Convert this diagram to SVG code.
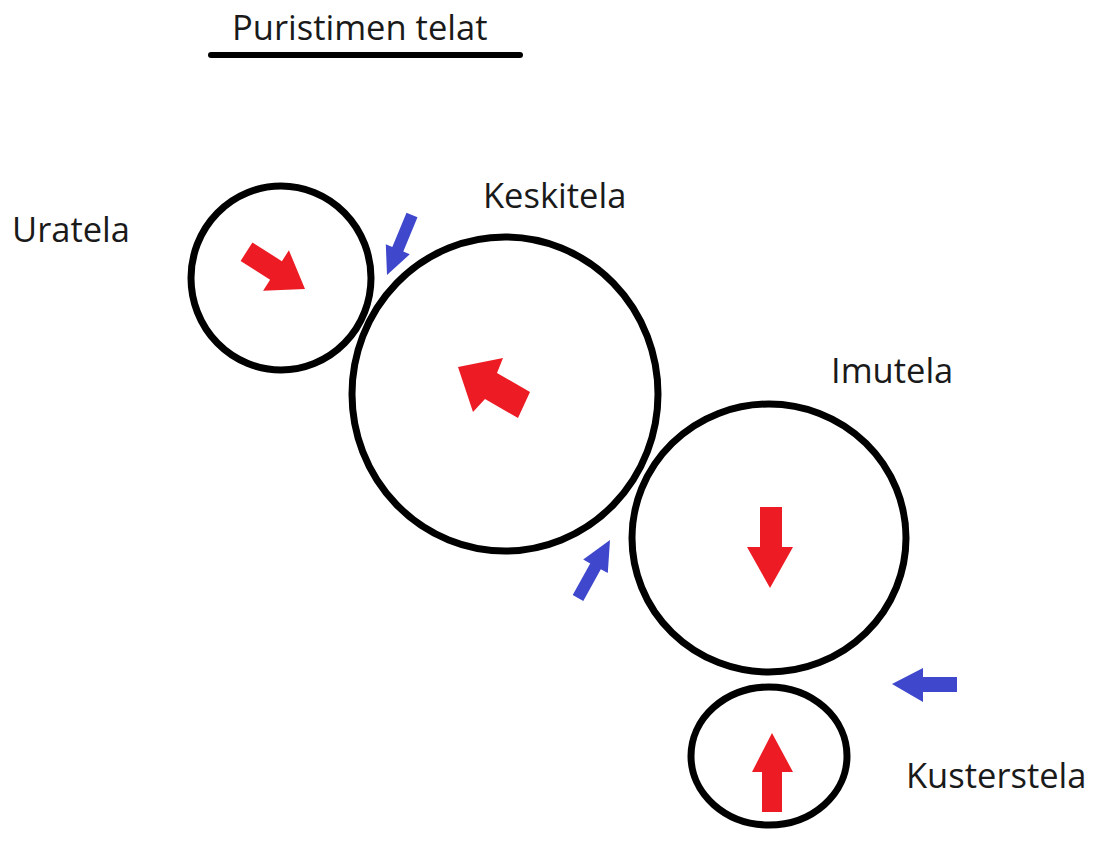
<svg xmlns="http://www.w3.org/2000/svg" width="1095" height="848" viewBox="0 0 1095 848">
  <style>
    .lbl { font-family: "Open Sans", "Liberation Sans", sans-serif; font-size: 34.5px; fill: #1a1a1a; }
    .roll { fill: none; stroke: #000; stroke-width: 7; }
    .force { fill: #ed1c24; }
    .feed { fill: #3f48cc; }
  </style>
  <rect width="1095" height="848" fill="#fff"/>

  <!-- heading -->
  <g id="title">
    <text class="lbl" x="232" y="40" font-size="35.5">Puristimen telat</text>
    <line x1="211" y1="55" x2="520" y2="55" stroke="#000" stroke-width="6" stroke-linecap="round"/>
  </g>

  <!-- rolls with their load directions -->
  <g id="uratela">
    <ellipse class="roll" cx="281" cy="278" rx="90" ry="92"/>
    <polygon class="force" points="252.4,242.4 281.9,261.2 288.9,250.3 305,289 263.1,290.7 270.1,279.8 240.6,261"/>
    <text class="lbl" x="12" y="242">Uratela</text>
  </g>

  <g id="keskitela">
    <ellipse class="roll" cx="505" cy="394" rx="153" ry="157"/>
    <polygon class="force" points="458,367 503,358 497,373 530,392 518,418 485,399 473,412"/>
    <text class="lbl" x="483" y="208">Keskitela</text>
  </g>

  <g id="imutela">
    <ellipse class="roll" cx="769" cy="538" rx="137" ry="134"/>
    <polygon class="force" points="760,507 782,507 782,547 793,547 770,588 747,547 760,547"/>
    <text class="lbl" x="831" y="383">Imutela</text>
  </g>

  <g id="kusterstela">
    <ellipse class="roll" cx="769" cy="756" rx="78" ry="69"/>
    <polygon class="force" points="772,733 793,772 782,772 782,812 762,812 762,772 752,772"/>
    <text class="lbl" x="906" y="788">Kusterstela</text>
  </g>

  <!-- web feed direction at the nips -->
  <g id="connectors">
    <polygon class="feed" points="417.5,217.3 403.3,251.5 409.8,254.2 387,275 385.8,244.2 392.3,246.9 406.5,212.7"/>
    <polygon class="feed" points="610,540 607.8,573.1 600.8,569.2 583.3,600.9 572.7,595.1 590.2,563.4 583.2,559.5"/>
    <polygon class="feed" points="892,684 923,668 923,677 957,677 957,692 923,692 923,702"/>
  </g>
</svg>
